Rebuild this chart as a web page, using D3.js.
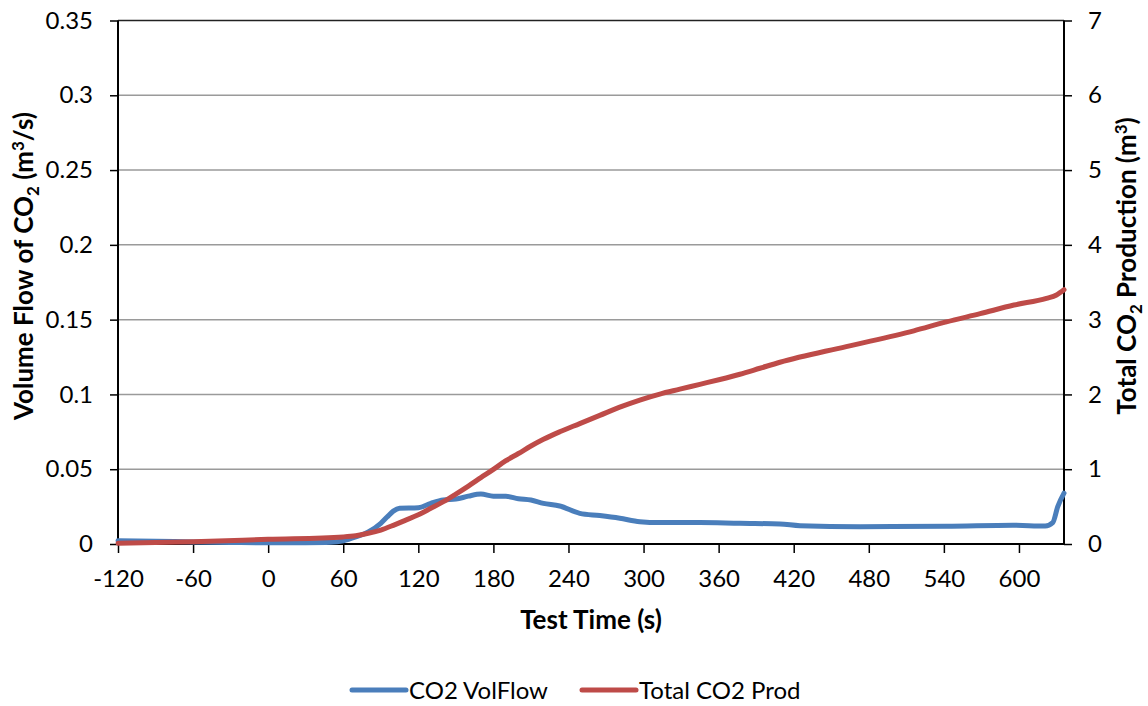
<!DOCTYPE html>
<html>
<head>
<meta charset="utf-8">
<script src="https://cdn.jsdelivr.net/npm/d3@7"></script>
<style>
  html, body { margin: 0; padding: 0; background: #fff; }
  svg { display: block; font-family: Lato, "Open Sans", sans-serif; }
</style>
</head>
<body>
<svg id="chart" width="1148" height="706"></svg>
<script>
// ---- Data ----
const timeFlow = [-120,-90,-60,-30,0,30,50,60,70,80,90,95,100,105,120,130,140,150,160,170,180,190,200,210,220,233,249,265,281,297,313,345,377,409,425,473,542,595,621,627,631,636];
const volFlow  = [0.0022,0.0018,0.0014,0.001,0.0008,0.0009,0.0012,0.0022,0.0047,0.008,0.0138,0.018,0.022,0.0239,0.0243,0.0272,0.0294,0.030,0.032,0.0334,0.032,0.0319,0.0303,0.0294,0.0272,0.0254,0.0205,0.019,0.0172,0.0149,0.0143,0.0143,0.0138,0.0134,0.0122,0.0116,0.0118,0.0125,0.012,0.0143,0.025,0.034];

const timeTotal = [-120,-60,0,60,70,80,90,100,110,120,130,140,150,160,170,180,190,200,210,220,233,249,265,281,297,313,329,345,361,377,393,409,462,516,542,569,596,622,630,636];
const totalProd = [0.01,0.03,0.063,0.095,0.11,0.143,0.187,0.25,0.32,0.39,0.477,0.566,0.668,0.775,0.887,0.998,1.114,1.21,1.31,1.40,1.50,1.61,1.72,1.83,1.925,2.005,2.07,2.135,2.20,2.27,2.35,2.43,2.64,2.85,2.97,3.08,3.195,3.285,3.33,3.40];

const xTicks = [-120,-60,0,60,120,180,240,300,360,420,480,540,600];
const xTickLabels = ["-120","-60","0","60","120","180","240","300","360","420","480","540","600"];
const yLeftTicks = [0,0.05,0.1,0.15,0.2,0.25,0.3,0.35];
const yLeftLabels = ["0","0.05","0.1","0.15","0.2","0.25","0.3","0.35"];
const yRightTicks = [0,1,2,3,4,5,6,7];
const yRightLabels = ["0","1","2","3","4","5","6","7"];
const seriesNames = ["CO2 VolFlow","Total CO2 Prod"];
const seriesColors = ["#4A7EBB","#BE4B48"];

// ---- Layout ----
const svg = d3.select("#chart");
const pLeft = 118, pRight = 1064, pTop = 20.5, pBottom = 544;
const tickFont = "24px", titleFont = "26px", subFont = "17px";

const x = d3.scaleLinear().domain([-120, 636]).range([pLeft, pRight]);
const yL = d3.scaleLinear().domain([0, 0.35]).range([pBottom, pTop]);
const yR = d3.scaleLinear().domain([0, 7]).range([pBottom, pTop]);

// gridlines
svg.append("g").selectAll("line").data(yLeftTicks.filter(d => d > 0 && d < 0.35)).join("line")
  .attr("x1", pLeft).attr("x2", pRight)
  .attr("y1", d => yL(d)).attr("y2", d => yL(d))
  .attr("stroke", "#9a9a9a").attr("stroke-width", 1.5);
// top border
svg.append("line").attr("x1", pLeft).attr("x2", pRight).attr("y1", yL(0.35)).attr("y2", yL(0.35))
  .attr("stroke", "#222").attr("stroke-width", 1.5);

// axes
const axisStyle = g => {
  g.select(".domain").remove();
  g.selectAll(".tick line").attr("stroke", "#000").attr("stroke-width", 1.5);
  g.selectAll(".tick text").attr("fill", "#000").style("font-size", tickFont).style("font-family", "Lato, sans-serif");
};

svg.append("g").attr("transform", `translate(0,${pBottom})`)
  .call(d3.axisBottom(x).tickValues(xTicks).tickSize(9).tickPadding(17).tickFormat((d,i) => xTickLabels[i]))
  .call(axisStyle);

svg.append("g").attr("transform", `translate(${pLeft},0)`)
  .call(d3.axisLeft(yL).tickValues(yLeftTicks).tickSize(8).tickPadding(17).tickFormat((d,i) => yLeftLabels[i]))
  .call(axisStyle);

svg.append("g").attr("transform", `translate(${pRight},0)`)
  .call(d3.axisRight(yR).tickValues(yRightTicks).tickSize(8).tickPadding(16).tickFormat((d,i) => yRightLabels[i]))
  .call(axisStyle);

// axis lines
svg.append("line").attr("x1", pLeft).attr("x2", pLeft).attr("y1", pTop).attr("y2", pBottom + 1)
  .attr("stroke", "#000").attr("stroke-width", 2);
svg.append("line").attr("x1", pRight).attr("x2", pRight).attr("y1", pTop).attr("y2", pBottom + 1)
  .attr("stroke", "#000").attr("stroke-width", 2);
svg.append("line").attr("x1", pLeft).attr("x2", pRight).attr("y1", pBottom).attr("y2", pBottom)
  .attr("stroke", "#000").attr("stroke-width", 2);

// lines
const lineFlow = d3.line().x((d,i) => x(timeFlow[i])).y(d => yL(d)).curve(d3.curveMonotoneX);
const lineTotal = d3.line().x((d,i) => x(timeTotal[i])).y(d => yR(d)).curve(d3.curveMonotoneX);

svg.append("path").datum(volFlow).attr("d", lineFlow)
  .attr("fill", "none").attr("stroke", seriesColors[0]).attr("stroke-width", 5)
  .attr("stroke-linejoin", "round").attr("stroke-linecap", "round");
svg.append("path").datum(totalProd).attr("d", lineTotal)
  .attr("fill", "none").attr("stroke", seriesColors[1]).attr("stroke-width", 5)
  .attr("stroke-linejoin", "round").attr("stroke-linecap", "round");

// axis titles
svg.append("text").attr("x", 591).attr("y", 629)
  .attr("text-anchor", "middle").style("font-size", titleFont).style("font-weight", "bold")
  .text("Test Time (s)");

const lt = svg.append("text").attr("transform", `translate(33,266) rotate(-90)`)
  .attr("text-anchor", "middle").style("font-size", titleFont).style("font-weight", "bold");
lt.append("tspan").text("Volume Flow of CO");
lt.append("tspan").text("2").style("font-size", subFont).attr("dy", 6);
lt.append("tspan").text(" (m").attr("dy", -6);
lt.append("tspan").text("3").style("font-size", subFont).attr("dy", -9);
lt.append("tspan").text("/s)").attr("dy", 9);

const rt = svg.append("text").attr("transform", `translate(1136,266) rotate(-90)`)
  .attr("text-anchor", "middle").style("font-size", titleFont).style("font-weight", "bold");
rt.append("tspan").text("Total CO");
rt.append("tspan").text("2").style("font-size", subFont).attr("dy", 6);
rt.append("tspan").text(" Production (m").attr("dy", -6);
rt.append("tspan").text("3").style("font-size", subFont).attr("dy", -9);
rt.append("tspan").text(")").attr("dy", 9);

// legend
const legendX = [352, 582];
const lg = svg.append("g");
seriesNames.forEach((name, i) => {
  lg.append("line").attr("x1", legendX[i]).attr("x2", legendX[i] + 54)
    .attr("y1", 690).attr("y2", 690)
    .attr("stroke", seriesColors[i]).attr("stroke-width", 5).attr("stroke-linecap", "round");
  lg.append("text").attr("x", legendX[i] + 57).attr("y", 699)
    .style("font-size", tickFont).text(name);
});
</script>
</body>
</html>
